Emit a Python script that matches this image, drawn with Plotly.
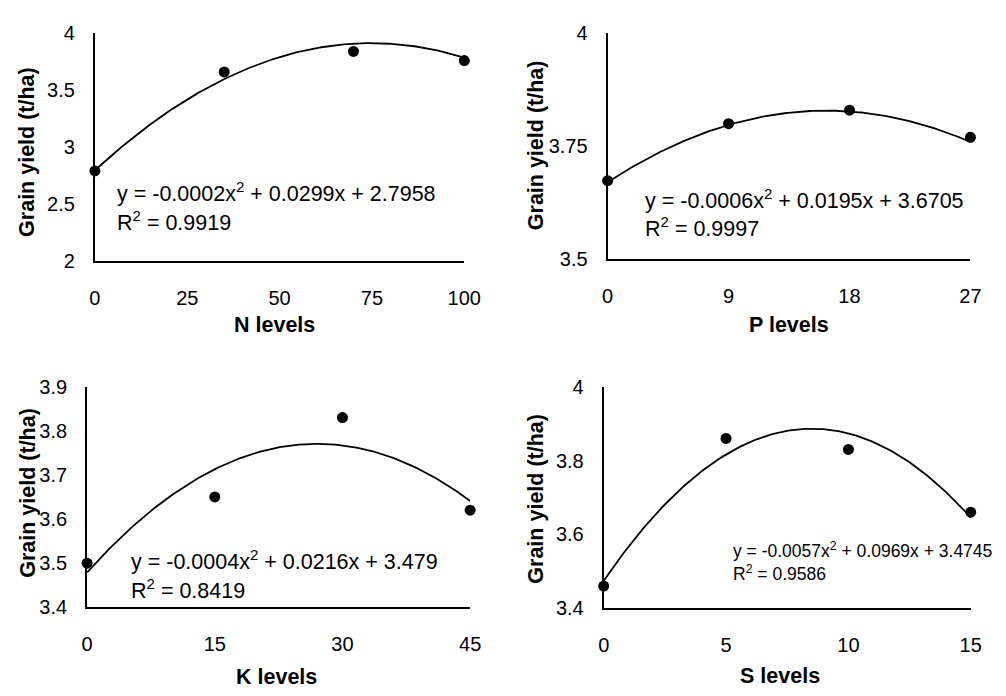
import numpy as np
import plotly.graph_objects as go

W, H = 1006, 696

# Observed grain yield (t/ha) at each nutrient level
n_levels = [0, 35, 70, 100]
n_yield = [2.79, 3.66, 3.84, 3.76]
p_levels = [0, 9, 18, 27]
p_yield = [3.674, 3.80, 3.83, 3.77]
k_levels = [0, 15, 30, 45]
k_yield = [3.50, 3.65, 3.83, 3.62]
s_levels = [0, 5, 10, 15]
s_yield = [3.46, 3.86, 3.83, 3.66]

# Quadratic trendline coefficients (a, b, c) for y = a x^2 + b x + c, and R^2
n_fit = [-0.0002, 0.0299, 2.7958]
p_fit = [-0.0006, 0.0195, 3.6705]
k_fit = [-0.0004, 0.0216, 3.479]
s_fit = [-0.0057, 0.0969, 3.4745]
r2_values = [0.9919, 0.9997, 0.8419, 0.9586]

x_titles = ["N levels", "P levels", "K levels", "S levels"]
y_title = "Grain yield (t/ha)"

x_ticks = [[0, 25, 50, 75, 100], [0, 9, 18, 27], [0, 15, 30, 45], [0, 5, 10, 15]]
y_ticks = [[2, 2.5, 3, 3.5, 4], [3.5, 3.75, 4], [3.4, 3.5, 3.6, 3.7, 3.8, 3.9],
           [3.4, 3.6, 3.8, 4]]

panels = [
    (n_levels, n_yield, n_fit),
    (p_levels, p_yield, p_fit),
    (k_levels, k_yield, k_fit),
    (s_levels, s_yield, s_fit),
]

# Plot-area boxes in pixels: left, right, top, bottom
boxes = [(91, 469, 23, 258), (615.7, 987, 23, 256.5),
         (83, 475, 388, 615.7), (611.7, 987.3, 388, 616.7)]
# Axis title centres (pixels)
xtitle_pos = [(275, 324), (801, 324), (277, 688), (792, 687)]
ytitle_pos = [(22, 145), (542, 139), (23, 497), (542, 504)]
# Equation label: left edge, line-1 centre, line-2 centre, font size
eq_pos = [(112, 187, 217, 21.5), (652, 194, 223, 21.5),
          (126, 567, 597, 21.5), (742, 557, 580, 17.5)]

FONT = "Liberation Sans, Arial, sans-serif"
TITLE_SIZE = 21.5

fig = go.Figure()
annotations = []


def fmt_coef(v, nd):
    return f"{abs(v):.{nd}f}"


for i, (xs, ys, (a, b, c)) in enumerate(panels):
    ax = "" if i == 0 else str(i + 1)
    xmax = x_ticks[i][-1]
    xf = np.linspace(0, xmax, 200)
    yf = a * xf ** 2 + b * xf + c
    fig.add_trace(go.Scatter(x=xf, y=yf, mode="lines",
                             line=dict(color="black", width=1.8),
                             xaxis="x" + ax, yaxis="y" + ax,
                             cliponaxis=False, hoverinfo="skip"))
    fig.add_trace(go.Scatter(x=xs, y=ys, mode="markers",
                             marker=dict(color="black", size=11),
                             xaxis="x" + ax, yaxis="y" + ax,
                             cliponaxis=False))

    l, r, t, btm = boxes[i]
    yt = y_ticks[i]
    common = dict(showgrid=False, zeroline=False, showline=True,
                  linecolor="black", linewidth=2, ticks="outside",
                  tickcolor="rgba(0,0,0,0)",
                  tickfont=dict(family=FONT, size=20, color="black"))
    fig.layout["xaxis" + ax] = dict(
        domain=[l / W, r / W], range=[0, xmax], anchor="y" + ax,
        tickvals=x_ticks[i], ticktext=[str(v) for v in x_ticks[i]],
        ticklen=18, **common)
    fig.layout["yaxis" + ax] = dict(
        domain=[1 - btm / H, 1 - t / H], range=[yt[0], yt[-1]],
        anchor="x" + ax, tickvals=yt, ticktext=[f"{v:g}" for v in yt],
        ticklen=14, **common)

    xt, ytp = xtitle_pos[i]
    annotations.append(dict(text=f"<b>{x_titles[i]}</b>", x=xt / W, y=1 - ytp / H,
                            xref="paper", yref="paper", showarrow=False,
                            xanchor="center", yanchor="middle",
                            font=dict(family=FONT, size=TITLE_SIZE, color="black")))
    yx, yy = ytitle_pos[i]
    annotations.append(dict(text=f"<b>{y_title}</b>", x=yx / W, y=1 - yy / H,
                            xref="paper", yref="paper", showarrow=False,
                            textangle=-90, xanchor="center", yanchor="middle",
                            font=dict(family=FONT, size=TITLE_SIZE, color="black")))

    ex, e1, e2, fs = eq_pos[i]
    cstr = f"{c:.4f}".rstrip("0")
    eq = (f"y = -{fmt_coef(a, 4)}x<sup>2</sup> + {fmt_coef(b, 4)}x + {cstr}")
    annotations.append(dict(text=eq, x=ex / W, y=1 - e1 / H, xref="paper",
                            yref="paper", showarrow=False, xanchor="left",
                            yanchor="middle",
                            font=dict(family=FONT, size=fs, color="black")))
    annotations.append(dict(text=f"R<sup>2</sup> = {r2_values[i]:.4f}",
                            x=ex / W, y=1 - e2 / H, xref="paper", yref="paper",
                            showarrow=False, xanchor="left", yanchor="middle",
                            font=dict(family=FONT, size=fs, color="black")))

fig.update_layout(width=W, height=H, margin=dict(l=0, r=0, t=0, b=0),
                  paper_bgcolor="white", plot_bgcolor="white",
                  showlegend=False, annotations=annotations)

fig.write_html("out.html")
